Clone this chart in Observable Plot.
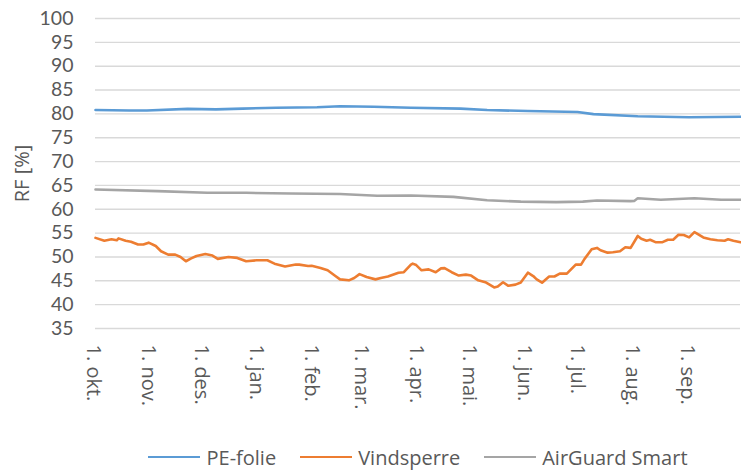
<!DOCTYPE html>
<html>
<head>
<meta charset="utf-8">
<script src="https://cdn.jsdelivr.net/npm/d3@7"></script>
<script src="https://cdn.jsdelivr.net/npm/@observablehq/plot@0.6"></script>
<style>
  html, body { margin: 0; padding: 0; background: #fff; }
  body { width: 741px; height: 474px; position: relative; overflow: hidden; font-family: "Open Sans", sans-serif; }
  #legend { position: absolute; left: 95px; width: 646px; top: 443px; height: 28px; display: flex; justify-content: center; align-items: center; font-size: 20px; color: #595959; }
  .item { display: flex; align-items: center; margin: 0 12px; }
  .sw { display: inline-block; width: 52px; height: 2.5px; margin-right: 6px; }
</style>
</head>
<body>
<div id="chart"></div>
<div id="legend"></div>
<script>
// ---- data ----
const seriesNames = ["PE-folie", "Vindsperre", "AirGuard Smart"];
const seriesColors = ["#5B9BD5", "#ED7D31", "#A5A5A5"];

const peDates = ["2014-10-01","2014-10-20","2014-10-30","2014-11-22","2014-12-08","2014-12-23","2015-01-11","2015-02-03","2015-02-16","2015-03-07","2015-03-28","2015-04-25","2015-05-10","2015-06-02","2015-06-30","2015-07-09","2015-08-03","2015-09-01","2015-09-30"];
const peValues = [80.8, 80.7, 80.7, 81.05, 80.95, 81.1, 81.3, 81.4, 81.6, 81.5, 81.3, 81.1, 80.8, 80.6, 80.4, 79.95, 79.5, 79.3, 79.4];

const vsDates = ["2014-10-01","2014-10-06","2014-10-10","2014-10-13","2014-10-14","2014-10-18","2014-10-21","2014-10-25","2014-10-28","2014-10-31",
"2014-11-04","2014-11-07","2014-11-11","2014-11-15","2014-11-18","2014-11-21","2014-11-24","2014-11-27",
"2014-12-02","2014-12-06","2014-12-09","2014-12-15","2014-12-20","2014-12-25","2014-12-31",
"2015-01-06","2015-01-10","2015-01-16","2015-01-22","2015-01-24","2015-01-29","2015-01-31",
"2015-02-05","2015-02-09","2015-02-13","2015-02-16","2015-02-21","2015-02-24","2015-02-27",
"2015-03-03","2015-03-08","2015-03-11","2015-03-15","2015-03-21","2015-03-24","2015-03-28","2015-03-29","2015-03-31",
"2015-04-03","2015-04-07","2015-04-11","2015-04-14","2015-04-16","2015-04-20","2015-04-24","2015-04-28",
"2015-05-01","2015-05-05","2015-05-09","2015-05-14","2015-05-16","2015-05-19","2015-05-22","2015-05-26","2015-05-29",
"2015-06-02","2015-06-05","2015-06-07","2015-06-10","2015-06-14","2015-06-17","2015-06-20","2015-06-24","2015-06-29",
"2015-07-02","2015-07-04","2015-07-08","2015-07-11","2015-07-13","2015-07-17","2015-07-20","2015-07-24","2015-07-27","2015-07-30",
"2015-08-03","2015-08-05","2015-08-08","2015-08-10","2015-08-13","2015-08-17","2015-08-20","2015-08-23","2015-08-26","2015-08-29",
"2015-09-01","2015-09-04","2015-09-05","2015-09-09","2015-09-13","2015-09-17","2015-09-21","2015-09-23","2015-09-26","2015-09-30"];
const vsValues = [54.0, 53.4, 53.7, 53.5, 53.9, 53.4, 53.2, 52.6, 52.6, 53.0,
52.3, 51.2, 50.5, 50.5, 50.0, 49.1, 49.7, 50.2,
50.6, 50.3, 49.6, 50.0, 49.8, 49.1, 49.3,
49.3, 48.6, 48.0, 48.4, 48.4, 48.1, 48.15,
47.7, 47.2, 46.1, 45.3, 45.1, 45.6, 46.4,
45.8, 45.3, 45.6, 45.9, 46.7, 46.8, 48.4, 48.6, 48.3,
47.2, 47.4, 46.8, 47.6, 47.65, 46.8, 46.1, 46.3,
46.1, 45.1, 44.7, 43.6, 43.8, 44.7, 43.95, 44.2, 44.65,
46.7, 46.0, 45.3, 44.6, 45.9, 45.9, 46.5, 46.5, 48.4,
48.4, 49.6, 51.6, 51.9, 51.4, 50.9, 51.0, 51.2, 52.05, 51.9,
54.4, 53.8, 53.4, 53.6, 53.1, 53.1, 53.6, 53.6, 54.65, 54.6,
54.1, 55.2, 55.0, 54.1, 53.7, 53.5, 53.4, 53.7, 53.4, 53.1];

const agDates = ["2014-10-01","2014-11-05","2014-12-03","2014-12-25","2015-01-19","2015-02-16","2015-03-09","2015-03-28","2015-04-21","2015-05-10","2015-05-29","2015-06-18","2015-07-03","2015-07-11","2015-07-30","2015-08-01","2015-08-03","2015-08-16","2015-09-04","2015-09-19","2015-09-30"];
const agValues = [64.15, 63.8, 63.45, 63.45, 63.3, 63.2, 62.85, 62.9, 62.6, 61.9, 61.6, 61.5, 61.6, 61.85, 61.7, 61.75, 62.3, 62.0, 62.3, 62.0, 62.0];

const monthTickDates = ["2014-10-01","2014-11-01","2014-12-01","2015-01-01","2015-02-01","2015-03-01","2015-04-01","2015-05-01","2015-06-01","2015-07-01","2015-08-01","2015-09-01"];
const monthLabels = ["1. okt.","1. nov.","1. des.","1. jan.","1. feb.","1. mar.","1. apr.","1. mai.","1. jun.","1. jul.","1. aug.","1. sep."];
const yTicks = [35, 40, 45, 50, 55, 60, 65, 70, 75, 80, 85, 90, 95, 100];
const yTitle = "RF [%]";
const xDomain = ["2014-10-01", "2015-09-30"];

// ---- build tables ----
const toRows = (dates, values) => dates.map((d, i) => ({date: new Date(d), value: values[i]}));
const pe = toRows(peDates, peValues);
const vs = toRows(vsDates, vsValues);
const ag = toRows(agDates, agValues);
const tickDates = monthTickDates.map(d => new Date(d));

const chart = Plot.plot({
  width: 741,
  height: 430,
  marginTop: 18,
  marginBottom: 102,
  marginLeft: 95,
  marginRight: 1,
  style: {fontFamily: "Open Sans, sans-serif", fontSize: "20px", color: "#595959", background: "#fff"},
  x: {type: "utc", domain: xDomain.map(d => new Date(d))},
  y: {domain: [35, 100]},
  marks: [
    Plot.gridY(yTicks, {stroke: "#d9d9d9", strokeOpacity: 1, strokeWidth: 1.4}),
    Plot.axisY({ticks: yTicks, tickSize: 0, tickPadding: 22, label: null, fill: "#595959", fontSize: 19.5, fontFamily: "Lato, sans-serif"}),
    Plot.axisX({ticks: tickDates, tickFormat: (d, i) => monthLabels[i], tickRotate: 90, tickSize: 0, tickPadding: 16, label: null, fill: "#595959", dx: -2, fontSize: 20}),
    Plot.text([yTitle], {frameAnchor: "left", textAnchor: "middle", rotate: -90, dx: -73, fill: "#595959", fontSize: 20}),
    Plot.lineY(ag, {x: "date", y: "value", stroke: seriesColors[2], strokeWidth: 2.6}),
    Plot.lineY(vs, {x: "date", y: "value", stroke: seriesColors[1], strokeWidth: 2.6}),
    Plot.lineY(pe, {x: "date", y: "value", stroke: seriesColors[0], strokeWidth: 2.6})
  ]
});
document.getElementById("chart").appendChild(chart);

const legend = document.getElementById("legend");
seriesNames.forEach((name, i) => {
  const item = document.createElement("div");
  item.className = "item";
  const sw = document.createElement("span");
  sw.className = "sw";
  sw.style.background = seriesColors[i];
  const label = document.createElement("span");
  label.textContent = name;
  item.appendChild(sw);
  item.appendChild(label);
  legend.appendChild(item);
});
</script>
</body>
</html>
